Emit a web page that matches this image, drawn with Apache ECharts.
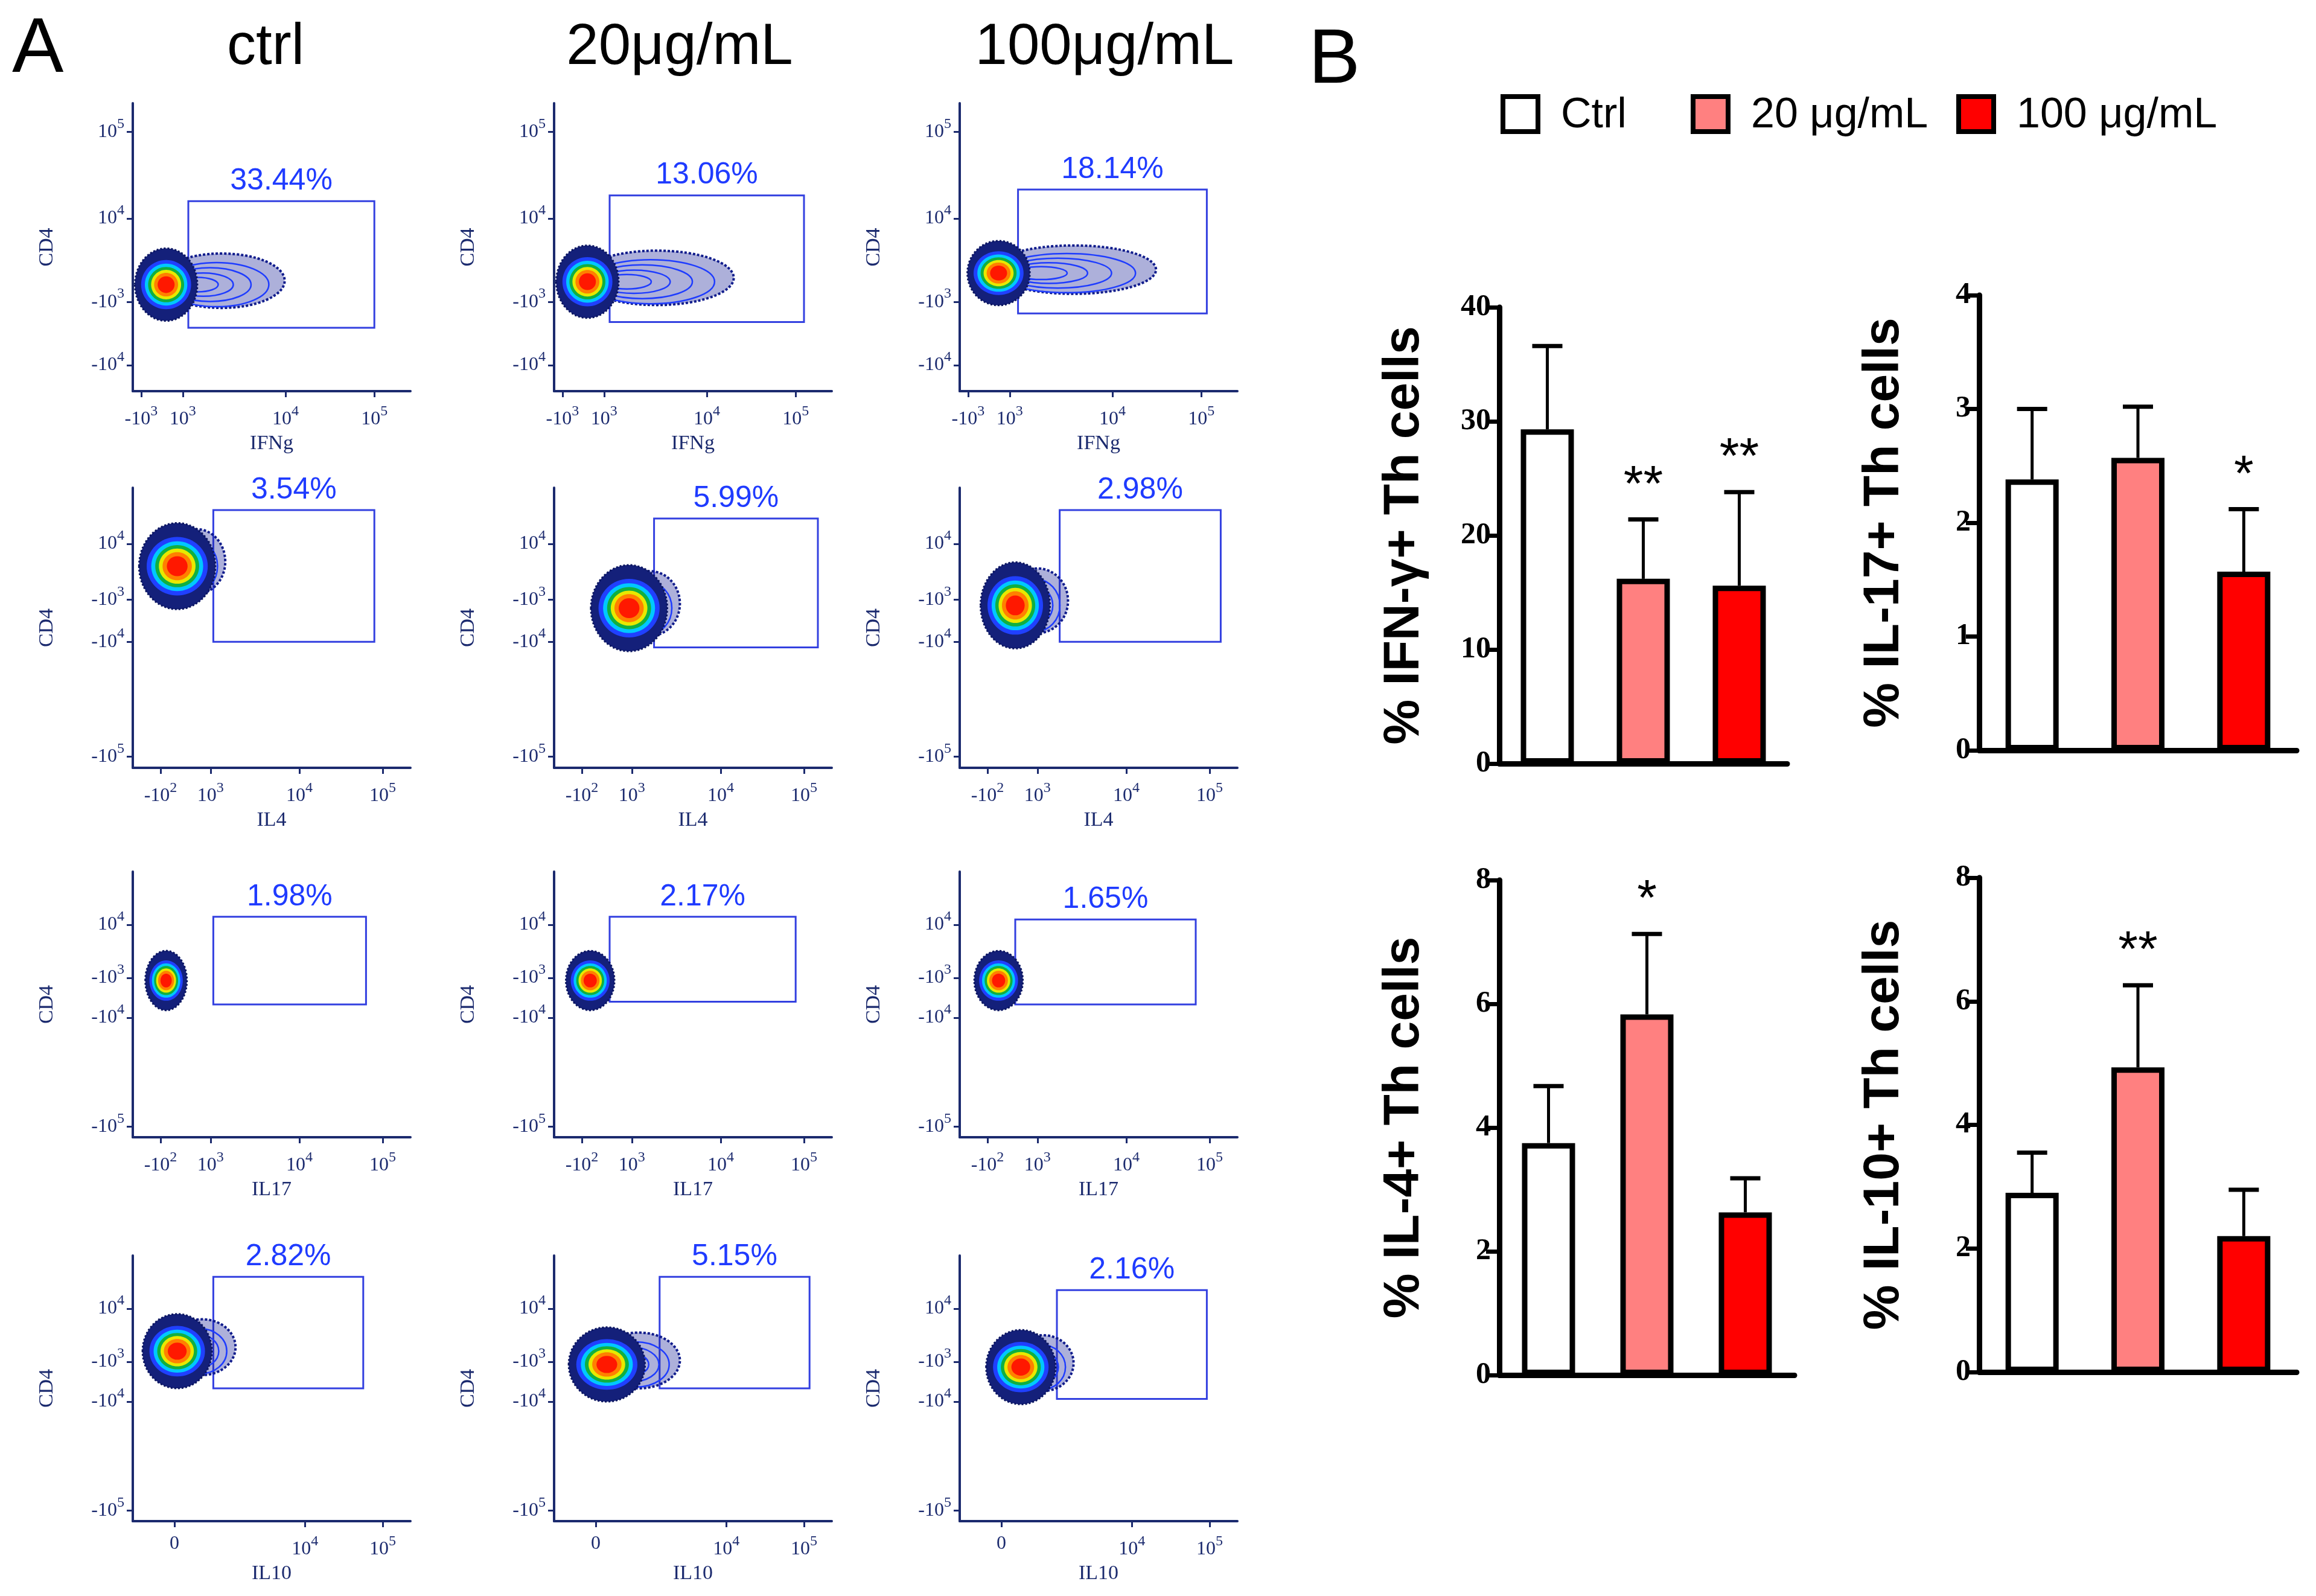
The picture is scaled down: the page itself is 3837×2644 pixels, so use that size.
<!DOCTYPE html>
<html>
<head>
<meta charset="utf-8">
<script src="https://cdn.jsdelivr.net/npm/echarts@6/dist/echarts.min.js"></script>
<style>html,body{margin:0;background:#fff}#chart{width:3837px;height:2644px}</style>
</head>
<body>
<div id="chart"></div>
<script>
// ---------- data ----------
// flow plots: gate [x1, y1, x2, y2] in a 0..100 plot space, percent, blob [cx, cy, rx, ry, tailX]
const flowPercents = ['33.44%', '13.06%', '18.14%', '3.54%', '5.99%', '2.98%', '1.98%', '2.17%', '1.65%', '2.82%', '5.15%', '2.16%'];
const flowGates = [
	[20, 22, 87, 66], [20, 24, 90, 68], [21, 27, 89, 70],
	[29, 45, 87, 92], [36, 43, 95, 89], [36, 45, 94, 92],
	[29, 50, 84, 83], [20, 51, 87, 83], [20, 50, 85, 82],
	[29, 50, 83, 92], [38, 50, 92, 92], [35, 46, 89, 87]
];
const flowBlobs = [
	[12, 37, 9, 9, 52], [12, 38, 9, 9, 62], [14, 41, 9, 8, 68],
	[16, 72, 11, 11, 30], [27, 57, 11, 11, 42], [20, 58, 10, 11, 36],
	[12, 59, 6, 8, 16], [13, 59, 7, 8, 18], [14, 59, 7, 8, 18],
	[16, 64, 10, 10, 34], [19, 59, 11, 10, 42], [22, 58, 10, 10, 38]
];
const flowXNames = ['IFNg', 'IL4', 'IL17', 'IL10'];
const flowXTicks = [
	[[3, '-10', '3'], [18, '10', '3'], [55, '10', '4'], [87, '10', '5']],
	[[10, '-10', '2'], [28, '10', '3'], [60, '10', '4'], [90, '10', '5']],
	[[10, '-10', '2'], [28, '10', '3'], [60, '10', '4'], [90, '10', '5']],
	[[8, '-10', '3'], [15, '0', ''], [62, '10', '4'], [90, '10', '5']]
];
const flowYTicks = [
	[[90, '10', '5'], [60, '10', '4'], [31, '-10', '3'], [9, '-10', '4']],
	[[80, '10', '4'], [60, '-10', '3'], [45, '-10', '4'], [4, '-10', '5']],
	[[80, '10', '4'], [60, '-10', '3'], [45, '-10', '4'], [4, '-10', '5']],
	[[80, '10', '4'], [60, '-10', '3'], [45, '-10', '4'], [4, '-10', '5']]
];
const colTitles = ['ctrl', '20μg/mL', '100μg/mL'];

// bar charts
const groups = ['Ctrl', '20 μg/mL', '100 μg/mL'];
const barNames = ['% IFN-γ+ Th cells', '% IL-17+ Th cells', '% IL-4+ Th cells', '% IL-10+ Th cells'];
const barMeans = [[29.3, 16.2, 15.6], [2.38, 2.57, 1.57], [3.75, 5.83, 2.63], [2.9, 4.93, 2.2]];
const barSD = [[7.3, 5.2, 8.2], [0.62, 0.45, 0.55], [0.92, 1.3, 0.55], [0.65, 1.33, 0.75]];
const barStars = [['', '**', '**'], ['', '', '*'], ['', '*', ''], ['', '**', '']];
const barMax = [40, 4, 8, 8];
const barStep = [10, 1, 2, 2];

// ---------- layout ----------
const barColors = ['#ffffff', '#ff8080', '#ff0000'];
const navy = '#1b2a6e';
const colLeft = [220, 918, 1590];
const colWidth = 460;
const rowTop = [171, 808, 1444, 2080];
const rowHeight = [477, 464, 440, 440];
const barGrids = [
	{left: 2484, top: 509, width: 477, height: 756},
	{left: 3279, top: 489, width: 526, height: 754},
	{left: 2484, top: 1458, width: 489, height: 820},
	{left: 3279, top: 1454, width: 526, height: 819}
];

let chart = echarts.init(document.getElementById('chart'));
let grid = [], xAxis = [], yAxis = [], series = [];

const supRich = {
	n: {fontSize: 32, color: navy, fontFamily: 'Liberation Serif'},
	s: {fontSize: 24, color: navy, fontFamily: 'Liberation Serif', padding: [0, 0, 26, 0]}
};
function tickLabel(list) {
	return function (v) {
		let t = list.find(function (e) { return Math.abs(e[0] - v) < 0.01; });
		return t ? '{n|' + t[1] + '}' + (t[2] ? '{s|' + t[2] + '}' : '') : '';
	};
}

// flow cytometry panels
for (let i = 0; i < 12; i++) {
	let r = Math.floor(i / 3), c = i % 3;
	grid.push({left: colLeft[c], top: rowTop[r], width: colWidth, height: rowHeight[r]});
	let xt = flowXTicks[r], yt = flowYTicks[r];
	xAxis.push({
		type: 'value', gridIndex: i, min: 0, max: 100, splitLine: {show: false},
		name: flowXNames[r], nameLocation: 'middle', nameGap: 70,
		nameTextStyle: {color: navy, fontSize: 34, fontFamily: 'Liberation Serif'},
		axisLine: {lineStyle: {color: navy, width: 4}},
		axisTick: {customValues: xt.map(function (e) { return e[0]; }), length: 10, lineStyle: {color: navy, width: 3}},
		axisLabel: {customValues: xt.map(function (e) { return e[0]; }), formatter: tickLabel(xt), rich: supRich, margin: 22}
	});
	yAxis.push({
		type: 'value', gridIndex: i, min: 0, max: 100, splitLine: {show: false},
		name: 'CD4', nameLocation: 'middle', nameGap: 125,
		nameTextStyle: {color: navy, fontSize: 34, fontFamily: 'Liberation Serif'},
		axisLine: {show: true, lineStyle: {color: navy, width: 4}},
		axisTick: {customValues: yt.map(function (e) { return e[0]; }), length: 10, lineStyle: {color: navy, width: 3}},
		axisLabel: {customValues: yt.map(function (e) { return e[0]; }), formatter: tickLabel(yt), rich: supRich, margin: 14}
	});
	// gate with percentage
	series.push({
		type: 'custom', xAxisIndex: i, yAxisIndex: i, silent: true,
		data: [flowGates[i].concat([i])],
		renderItem: function (params, api) {
			let p1 = api.coord([api.value(0), api.value(3)]);
			let p2 = api.coord([api.value(2), api.value(1)]);
			return {type: 'group', children: [
				{type: 'rect', shape: {x: p1[0], y: p1[1], width: p2[0] - p1[0], height: p2[1] - p1[1]},
					style: {fill: 'none', stroke: '#3340e0', lineWidth: 3}},
				{type: 'text', x: (p1[0] + p2[0]) / 2, y: p1[1] - 8,
					style: {text: flowPercents[api.value(4)], fill: '#1f3bff', fontSize: 50, fontFamily: 'Arial',
						align: 'center', verticalAlign: 'bottom'}}
			]};
		}
	});
	// density blob
	series.push({
		type: 'custom', xAxisIndex: i, yAxisIndex: i, silent: true,
		data: [flowBlobs[i]],
		renderItem: function (params, api) {
			let cpos = api.coord([api.value(0), api.value(1)]);
			let sz = api.size([api.value(2), api.value(3)]);
			let tailEnd = api.coord([api.value(4), api.value(1)])[0];
			let rx = sz[0], ry = sz[1];
			let kids = [];
			// tail contours
			let tcx = (cpos[0] + tailEnd) / 2, trx = (tailEnd - cpos[0]) / 2;
			kids.push({type: 'ellipse', shape: {cx: tcx, cy: cpos[1] - ry * 0.15, rx: trx + rx * 0.3, ry: ry * 1.05},
				style: {fill: 'rgba(20,30,150,0.35)', stroke: '#101c8c', lineWidth: 4, lineDash: [4, 3]}});
			[0.85, 0.65, 0.45, 0.28].forEach(function (k) {
				kids.push({type: 'ellipse', shape: {cx: tcx - trx * (1 - k) * 0.6, cy: cpos[1], rx: trx * k + rx * 0.2, ry: ry * k},
					style: {fill: 'none', stroke: '#1e3cff', lineWidth: 2.5}});
			});
			// main body
			kids.push({type: 'ellipse', shape: {cx: cpos[0], cy: cpos[1], rx: rx * 1.25, ry: ry * 1.4},
				style: {fill: '#14207a', stroke: '#0b1560', lineWidth: 3, lineDash: [3, 3]}});
			let rings = [[1.0, '#2040ff'], [0.85, '#00c8ff'], [0.72, '#10b040'], [0.6, '#e8e800'], [0.48, '#ff8000'], [0.34, '#ff1800']];
			rings.forEach(function (rg) {
				kids.push({type: 'ellipse', shape: {cx: cpos[0], cy: cpos[1], rx: rx * rg[0], ry: ry * rg[0] * 0.95},
					style: {fill: rg[1]}});
			});
			return {type: 'group', children: kids};
		}
	});
}

// bar panels
for (let b = 0; b < 4; b++) {
	let gi = 12 + b;
	grid.push(barGrids[b]);
	xAxis.push({
		type: 'category', gridIndex: gi, data: groups,
		axisLine: {lineStyle: {color: '#000', width: 9}},
		axisTick: {alignWithLabel: true, length: 28, lineStyle: {color: '#000', width: 7}},
		axisLabel: {show: false}
	});
	yAxis.push({
		type: 'value', gridIndex: gi, min: 0, max: barMax[b], interval: barStep[b],
		name: barNames[b], nameLocation: 'middle', nameGap: 115, nameRotate: 90,
		nameTextStyle: {color: '#000', fontSize: 84, fontWeight: 'bold', fontFamily: 'Liberation Sans'},
		splitLine: {show: false},
		axisLine: {show: true, lineStyle: {color: '#000', width: 9}},
		axisTick: {show: true, length: 22, lineStyle: {color: '#000', width: 7}},
		axisLabel: {color: '#000', fontSize: 50, fontFamily: 'Liberation Sans Narrow', fontWeight: 'bold', margin: 14}
	});
	series.push({
		type: 'bar', xAxisIndex: gi, yAxisIndex: gi, barWidth: 88, silent: true,
		data: barMeans[b].map(function (v, k) {
			return {value: v, itemStyle: {color: barColors[k], borderColor: '#000', borderWidth: 9}};
		})
	});
	series.push({
		type: 'custom', xAxisIndex: gi, yAxisIndex: gi, silent: true, z: 1,
		data: barMeans[b].map(function (v, k) { return [k, v, v + barSD[b][k], k]; }),
		renderItem: (function (bi) {
			return function (params, api) {
				let lo = api.coord([api.value(0), api.value(1)]);
				let hi = api.coord([api.value(0), api.value(2)]);
				let star = barStars[bi][api.value(3)];
				let kids = [
					{type: 'line', shape: {x1: lo[0], y1: lo[1], x2: hi[0], y2: hi[1]}, style: {stroke: '#000', lineWidth: 5}},
					{type: 'line', shape: {x1: hi[0] - 25, y1: hi[1], x2: hi[0] + 25, y2: hi[1]}, style: {stroke: '#000', lineWidth: 7}}
				];
				if (star) kids.push({type: 'text', x: hi[0], y: hi[1] - 12,
					style: {text: star, fill: '#000', fontSize: 84, fontFamily: 'Liberation Sans', align: 'center', verticalAlign: 'bottom'}});
				return {type: 'group', children: kids};
			};
		})(b)
	});
}

// headings and legend
let graphic = [
	{type: 'text', left: 20, top: 20, style: {text: 'A', fontSize: 128, fontFamily: 'Liberation Sans', fill: '#000'}},
	{type: 'text', left: 2168, top: 38, style: {text: 'B', fontSize: 128, fontFamily: 'Liberation Sans', fill: '#000'}}
];
[440, 1126, 1830].forEach(function (x, k) {
	graphic.push({type: 'text', x: x, y: 80, style: {text: colTitles[k], fontSize: 96, fontFamily: 'Liberation Sans',
		fill: '#000', align: 'center', verticalAlign: 'middle'}});
});
[2490, 2805, 3245].forEach(function (x, k) {
	graphic.push({type: 'rect', shape: {x: x, y: 160, width: 58, height: 58},
		style: {fill: barColors[k], stroke: '#000', lineWidth: 8}});
	graphic.push({type: 'text', x: x + 96, y: 192, style: {text: groups[k], fontSize: 70, fontFamily: 'Liberation Sans',
		fill: '#000', verticalAlign: 'middle'}});
});

chart.setOption({
	animation: false,
	backgroundColor: '#fff',
	grid: grid, xAxis: xAxis, yAxis: yAxis, series: series, graphic: graphic
});
</script>
</body>
</html>
